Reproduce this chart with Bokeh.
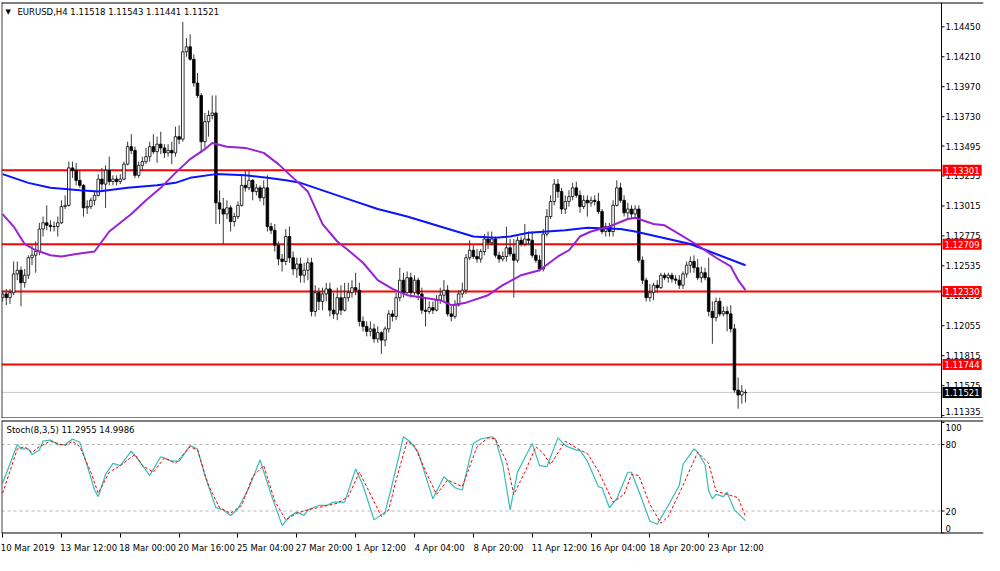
from bokeh.plotting import figure
from bokeh.models import ColumnDataSource, Range1d, FixedTicker, Span, Label
from bokeh.layouts import column
from bokeh.core.properties import value
from bokeh.embed import file_html
from bokeh.resources import INLINE

# ---------------- data ----------------
opens = [
 1.1228,1.1231,1.1228,1.1232,1.1247,1.1250,1.1240,1.1246,1.1260,1.1262,
 1.1265,1.1283,1.1288,1.1286,1.1285,1.1285,1.1288,1.1301,1.1302,1.1332,
 1.1330,1.1322,1.1318,1.1300,1.1301,1.1306,1.1310,1.1323,1.1319,1.1330,
 1.1321,1.1323,1.1321,1.1323,1.1335,1.1349,1.1346,1.1326,1.1334,1.1337,
 1.1341,1.1349,1.1345,1.1351,1.1348,1.1344,1.1346,1.1344,1.1357,1.1355,
 1.1425,1.1429,1.1419,1.1400,1.1390,1.1353,1.1369,1.1374,1.1376,1.1304,
 1.1299,1.1295,1.1300,1.1289,1.1293,1.1302,1.1318,1.1316,1.1322,1.1313,
 1.1316,1.1308,1.1316,1.1285,1.1282,1.1270,1.1259,1.1257,1.1277,1.1260,
 1.1251,1.1255,1.1246,1.1250,1.1256,1.1217,1.1232,1.1225,1.1231,1.1235,
 1.1218,1.1215,1.1228,1.1218,1.1228,1.1232,1.1236,1.1234,1.1209,1.1205,
 1.1201,1.1203,1.1195,1.1200,1.1194,1.1203,1.1215,1.1213,1.1228,1.1242,
 1.1232,1.1244,1.1232,1.1242,1.1231,1.1218,1.1217,1.1220,1.1218,1.1226,
 1.1230,1.1234,1.1215,1.1213,1.1222,1.1231,1.1234,1.1260,1.1266,1.1261,
 1.1259,1.1265,1.1275,1.1272,1.1275,1.1262,1.1259,1.1261,1.1268,1.1263,
 1.1258,1.1274,1.1271,1.1275,1.1274,1.1262,1.1258,1.1251,1.1279,1.1293,
 1.1305,1.1319,1.1313,1.1299,1.1305,1.1309,1.1316,1.1310,1.1301,1.1306,
 1.1304,1.1306,1.1305,1.1297,1.1281,1.1285,1.1281,1.1302,1.1316,1.1306,
 1.1296,1.1299,1.1295,1.1299,1.1258,1.1242,1.1228,1.1232,1.1238,1.1236,
 1.1246,1.1244,1.1246,1.1243,1.1242,1.1238,1.1247,1.1254,1.1257,1.1252,
 1.1244,1.1248,1.1244,1.1217,1.1212,1.1225,1.1215,1.1217,1.1215,1.1203,
 1.1154,1.1150,1.11518]
highs = [
 1.1234,1.1235,1.1235,1.1257,1.1257,1.1253,1.1251,1.1262,1.1271,1.1273,
 1.1288,1.1293,1.1302,1.1290,1.1289,1.1293,1.1306,1.1310,1.1337,1.1337,
 1.1336,1.1330,1.1319,1.1306,1.1308,1.1314,1.1327,1.1332,1.1334,1.1341,
 1.1326,1.1326,1.1327,1.1337,1.1353,1.1359,1.1349,1.1337,1.1341,1.1348,
 1.1353,1.1359,1.1357,1.1361,1.1351,1.1351,1.1353,1.1365,1.1366,1.1449,
 1.1436,1.1439,1.1423,1.1408,1.1392,1.1376,1.1378,1.1390,1.1390,1.1314,
 1.1308,1.1306,1.1302,1.1296,1.1305,1.1326,1.1330,1.1330,1.1323,1.1319,
 1.1318,1.1322,1.1326,1.1288,1.1287,1.1273,1.1263,1.1283,1.1285,1.1265,
 1.1260,1.1260,1.1256,1.1260,1.1260,1.1238,1.1236,1.1236,1.1240,1.1240,
 1.1232,1.1236,1.1238,1.1240,1.1240,1.1242,1.1248,1.1240,1.1213,1.1209,
 1.1209,1.1207,1.1205,1.1201,1.1205,1.1218,1.1218,1.1232,1.1252,1.1248,
 1.1249,1.1248,1.1246,1.1244,1.1236,1.1228,1.1225,1.1225,1.1230,1.1236,
 1.1242,1.1238,1.1221,1.1226,1.1234,1.1240,1.1263,1.1274,1.1270,1.1267,
 1.1267,1.1279,1.1281,1.1281,1.1277,1.1265,1.1265,1.1285,1.1275,1.1275,
 1.1277,1.1277,1.1287,1.1281,1.1281,1.1267,1.1262,1.1283,1.1299,1.1310,
 1.1323,1.1323,1.1316,1.1310,1.1314,1.1320,1.1321,1.1314,1.1310,1.1310,
 1.1309,1.1310,1.1312,1.1299,1.1288,1.1288,1.1306,1.1322,1.1320,1.1310,
 1.1304,1.1302,1.1302,1.1302,1.1261,1.1244,1.1239,1.1240,1.1242,1.1248,
 1.1248,1.1248,1.1248,1.1246,1.1246,1.1249,1.1257,1.1261,1.1262,1.1259,
 1.1253,1.1252,1.1260,1.1225,1.1228,1.1228,1.1221,1.1221,1.1222,1.1207,
 1.1164,1.1158,1.11543]
lows = [
 1.1225,1.1222,1.1223,1.1230,1.1242,1.1221,1.1236,1.1243,1.1254,1.1248,
 1.1262,1.1277,1.1282,1.1281,1.1281,1.1277,1.1287,1.1299,1.1301,1.1324,
 1.1318,1.1316,1.1293,1.1295,1.1299,1.1302,1.1309,1.1314,1.1300,1.1318,
 1.1318,1.1318,1.1319,1.1322,1.1334,1.1343,1.1324,1.1324,1.1330,1.1335,
 1.1337,1.1343,1.1336,1.1343,1.1340,1.1341,1.1335,1.1341,1.1351,1.1353,
 1.1421,1.1418,1.1397,1.1388,1.1344,1.1348,1.1357,1.1371,1.1287,1.1287,
 1.1271,1.1291,1.1281,1.1285,1.1291,1.1301,1.1313,1.1314,1.1306,1.1310,
 1.1305,1.1302,1.1281,1.1279,1.1265,1.1254,1.1249,1.1254,1.1256,1.1246,
 1.1244,1.1240,1.1240,1.1242,1.1213,1.1213,1.1218,1.1218,1.1225,1.1213,
 1.1211,1.1210,1.1214,1.1217,1.1225,1.1228,1.1230,1.1205,1.1201,1.1197,
 1.1197,1.1192,1.1192,1.1183,1.1189,1.1200,1.1209,1.1210,1.1225,1.1228,
 1.1231,1.1228,1.1230,1.1226,1.1215,1.1205,1.1215,1.1215,1.1217,1.1223,
 1.1225,1.1213,1.1209,1.1211,1.1221,1.1228,1.1231,1.1258,1.1259,1.1256,
 1.1256,1.1262,1.1267,1.1270,1.1260,1.1256,1.1257,1.1257,1.1261,1.1228,
 1.1256,1.1269,1.1269,1.1270,1.1260,1.1256,1.1249,1.1249,1.1277,1.1291,
 1.1302,1.1308,1.1295,1.1295,1.1301,1.1306,1.1308,1.1296,1.1299,1.1293,
 1.1301,1.1302,1.1295,1.1279,1.1277,1.1277,1.1277,1.1301,1.1304,1.1293,
 1.1291,1.1292,1.1291,1.1256,1.1239,1.1225,1.1225,1.1226,1.1232,1.1235,
 1.1242,1.1240,1.1240,1.1239,1.1235,1.1235,1.1244,1.1248,1.1248,1.1242,
 1.1240,1.1242,1.1213,1.1191,1.1209,1.1213,1.1213,1.1201,1.1200,1.1152,
 1.1139,1.1143,1.11441]
closes = [
 1.1231,1.1228,1.1232,1.1247,1.1250,1.1240,1.1246,1.1260,1.1262,1.1265,
 1.1283,1.1288,1.1286,1.1285,1.1285,1.1288,1.1301,1.1302,1.1332,1.1330,
 1.1322,1.1318,1.1300,1.1301,1.1306,1.1310,1.1323,1.1319,1.1330,1.1321,
 1.1323,1.1321,1.1323,1.1335,1.1349,1.1346,1.1326,1.1334,1.1337,1.1341,
 1.1349,1.1345,1.1351,1.1348,1.1344,1.1346,1.1344,1.1357,1.1355,1.1425,
 1.1429,1.1419,1.1400,1.1390,1.1353,1.1369,1.1374,1.1376,1.1304,1.1299,
 1.1295,1.1300,1.1289,1.1293,1.1302,1.1318,1.1316,1.1322,1.1313,1.1316,
 1.1308,1.1316,1.1285,1.1282,1.1270,1.1259,1.1257,1.1277,1.1260,1.1251,
 1.1255,1.1246,1.1250,1.1256,1.1217,1.1232,1.1225,1.1231,1.1235,1.1218,
 1.1215,1.1228,1.1218,1.1228,1.1232,1.1236,1.1234,1.1209,1.1205,1.1201,
 1.1203,1.1195,1.1200,1.1194,1.1203,1.1215,1.1213,1.1228,1.1242,1.1232,
 1.1244,1.1232,1.1242,1.1231,1.1218,1.1217,1.1220,1.1218,1.1226,1.1230,
 1.1234,1.1215,1.1213,1.1222,1.1231,1.1234,1.1260,1.1266,1.1261,1.1259,
 1.1265,1.1275,1.1272,1.1275,1.1262,1.1259,1.1261,1.1268,1.1263,1.1258,
 1.1274,1.1271,1.1275,1.1274,1.1262,1.1258,1.1251,1.1279,1.1293,1.1305,
 1.1319,1.1313,1.1299,1.1305,1.1309,1.1316,1.1310,1.1301,1.1306,1.1304,
 1.1306,1.1305,1.1297,1.1281,1.1285,1.1281,1.1302,1.1316,1.1306,1.1296,
 1.1299,1.1295,1.1299,1.1258,1.1242,1.1228,1.1232,1.1238,1.1236,1.1246,
 1.1244,1.1246,1.1243,1.1242,1.1238,1.1247,1.1254,1.1257,1.1252,1.1244,
 1.1248,1.1244,1.1217,1.1212,1.1225,1.1215,1.1217,1.1215,1.1203,1.1154,
 1.1150,1.1153,1.11521]

# moving averages (bar index, value)
ma_fast_bar = [0,3,6,9,13,16,20,25,26,29,35,39,43,47,51,55,57,61,66,71,75,79,83,87,91,94,98,102,106,110,
               119,122,126,132,136,141,146,151,154,157,160,165,170,172,177,180,184,189,194,198,200,202]
ma_fast_val = [1.1295,1.1285,1.1271,1.1266,1.1262,1.1261,1.1263,1.1265,1.1269,1.1281,
               1.1295,1.1306,1.1316,1.1328,1.1339,1.1347,1.1352,1.1349,1.1348,1.1344,
               1.1335,1.1324,1.1313,1.1287,1.1273,1.1266,1.1256,1.1242,1.1235,1.1230,
               1.1226,1.1222,1.1224,1.1230,1.1238,1.1246,1.1250,1.1261,1.1266,1.1277,
               1.1281,1.1285,1.1291,1.1292,1.1287,1.1286,1.1279,1.1270,1.1260,1.1253,
               1.1242,1.1234]
ma_slow_bar = [0,7,13,21,26,34,42,47,51,58,66,72,77,81,87,95,102,110,119,128,
               134,138,143,148,153,159,168,172,178,187,194,202]
ma_slow_val = [1.1327,1.1320,1.1316,1.1314,1.1313,1.1316,1.1318,1.1320,1.1324,1.1327,
               1.1326,1.1324,1.1322,1.1320,1.1314,1.1306,1.1299,1.1293,1.1285,1.1277,
               1.1276,1.1277,1.1280,1.1281,1.1282,1.1284,1.1283,1.1281,1.1277,1.1271,
               1.1263,1.1254]

# stochastic (bar index, value)
stoch_main_bar = [0,4,5,7,8,10,11,13,15,17,19,21,23,25,26,28,30,32,35,37,40,43,46,48,51,53,55,58,60,62,
                  64,67,70,73,76,78,80,82,83,86,88,90,93,96,98,101,104,106,109,111,113,117,120,123,125,
                  128,130,133,134,136,138,140,142,144,146,148,151,153,156,157,159,162,163,165,167,170,
                  171,173,176,178,181,184,185,188,189,191,192,193,194,196,197,199,202]
stoch_main_val = [45,80,76,76,71,75,83,84,80,80,85,82,61,39,33,53,63,61,74,66,52,69,65,65,79,76,52,23,21,16,
                  22,41,66,35,7,15,19,16,21,25,25,28,28,58,43,12,19,45,87,82,73,31,51,41,39,
                  81,85,87,85,62,21,55,68,81,61,60,86,79,75,75,65,42,41,23,31,55,
                  55,38,11,8,25,43,62,76,73,62,38,31,35,33,37,21,11.2955]
stoch_sig_bar = [0,4,6,8,10,13,17,19,21,24,26,29,32,36,38,41,44,47,51,53,56,59,62,65,68,71,74,77,80,83,
                 87,91,94,97,99,103,105,107,110,112,115,118,121,125,129,132,134,137,139,142,145,147,149,
                 153,157,159,162,166,169,171,173,176,179,181,185,189,192,194,197,200,202]
stoch_sig_val = [36,76,78,73,78,83,79,83,78,55,36,55,61,71,61,55,68,63,78,75,43,23,18,25,51,61,29,12,18,21,
                 24,27,33,55,42,15,21,48,83,79,56,35,48,42,78,86,85,65,35,55,78,72,62,
                 83,75,72,56,28,35,53,52,26,9,15,43,73,63,38,35,32,14.9986]

level_lines = [1.13301, 1.12709, 1.12330, 1.11744]
last_price = 1.11521
price_ticks = [1.14450, 1.14210, 1.13970, 1.13730, 1.13495, 1.13255, 1.13015,
               1.12775, 1.12535, 1.12295, 1.12055, 1.11815, 1.11575, 1.11335]
stoch_ticks = [0, 20, 80, 100]
stoch_levels = [20, 80]
date_bars = [0, 16, 32, 48, 64, 80, 96, 112, 128, 144, 160, 176, 192]
date_labels = ["10 Mar 2019", "13 Mar 12:00", "18 Mar 00:00", "20 Mar 16:00", "25 Mar 04:00",
               "27 Mar 20:00", "1 Apr 12:00", "4 Apr 04:00", "8 Apr 20:00", "11 Apr 12:00",
               "16 Apr 04:00", "18 Apr 20:00", "23 Apr 12:00"]
title_text = "EURUSD,H4 1.11518 1.11543 1.11441 1.11521"
stoch_text = "Stoch(8,3,5) 11.2955 14.9986"

# ---------------- layout ----------------
FONT = "DejaVu Sans"
FS = "8.5px"
W = 984
FRAME_W = W - 2            # whole frame (chart + price scale)
CHART_W = 940              # chart part of the frame, in px
X0 = -0.3
BORDER = 255.3             # bar position of the chart/price-scale border
PX_PER_BAR = CHART_W / (BORDER - X0)
X1 = X0 + FRAME_W / PX_PER_BAR
x_range = Range1d(X0, X1)
y_range = Range1d(1.11312, 1.14645)
s_range = Range1d(-0.3, 101.7)


def style(fig):
    fig.grid.visible = False
    fig.outline_line_color = None
    fig.background_fill_color = "white"
    fig.add_layout(Span(location=BORDER, dimension="height", line_color="black", line_width=1))
    fig.add_layout(Span(location=X0, dimension="height", line_color="#404040", line_width=2))
    fig.add_layout(Span(location=fig.y_range.start, dimension="width", line_color="black", line_width=2))
    fig.add_layout(Span(location=fig.y_range.end, dimension="width", line_color="black", line_width=2))


def price_scale(fig, ticks, texts, offsets):
    tick_len = 3 / PX_PER_BAR
    fig.segment(x0=[BORDER] * len(ticks), y0=ticks, x1=[BORDER + tick_len] * len(ticks), y1=ticks,
                line_color="black", line_width=1)
    fig.text(x=[BORDER + 4 / PX_PER_BAR] * len(ticks), y=ticks, text=texts, y_offset=offsets,
             text_font=value(FONT), text_font_size=value(FS), text_color="black",
             text_align="left", text_baseline="middle")


p = figure(width=W, height=418, x_range=x_range, y_range=y_range,
           output_backend="svg", toolbar_location=None,
           x_axis_location=None, y_axis_location=None,
           min_border_left=1, min_border_right=1, min_border_top=2, min_border_bottom=0)
style(p)

idx = list(range(len(closes)))
src = ColumnDataSource(dict(
    x=idx, o=opens, h=highs, l=lows, c=closes,
    top=[max(a, b) for a, b in zip(opens, closes)],
    bottom=[min(a, b) for a, b in zip(opens, closes)],
    fill=["white" if c >= o else "black" for o, c in zip(opens, closes)],
))

p.segment(x0=[X0] * len(level_lines), y0=level_lines, x1=[BORDER] * len(level_lines), y1=level_lines,
          line_color="#ff0000", line_width=2)
p.segment(x0=[X0], y0=[last_price], x1=[BORDER], y1=[last_price], line_color="#c8c8c8", line_width=1)

p.segment(x0="x", y0="l", x1="x", y1="h", line_color="#3a3a3a", line_width=1, source=src)
p.vbar(x="x", width=0.7, top="top", bottom="bottom", fill_color="fill",
       line_color="black", line_width=0.8, source=src)

p.line(ma_slow_bar, ma_slow_val, line_color="#0a14ff", line_width=2)
p.line(ma_fast_bar, ma_fast_val, line_color="#9a22d4", line_width=2)

price_offsets = [0] * (len(price_ticks) - 1) + [-4]
price_scale(p, price_ticks, [f"{t:.5f}" for t in price_ticks], price_offsets)

for lvl in level_lines:
    p.add_layout(Label(x=BORDER, y=lvl, x_offset=1, text=f"{lvl:.5f}",
                       text_color="white", text_font=FONT, text_font_size=FS,
                       text_baseline="middle", background_fill_color="#ff0000", padding=2))
p.add_layout(Label(x=BORDER, y=last_price, x_offset=1, text=f"{last_price:.5f}",
                   text_color="white", text_font=FONT, text_font_size=FS,
                   text_baseline="middle", background_fill_color="black", padding=2))

p.add_layout(Label(x=X0, y=y_range.end, x_offset=4, y_offset=-9, text="\u25BC",
                   text_color="black", text_font=FONT, text_font_size="7px", text_baseline="middle"))
p.add_layout(Label(x=X0, y=y_range.end, x_offset=16, y_offset=-9, text=title_text,
                   text_color="black", text_font=FONT, text_font_size=FS, text_baseline="middle"))

# stochastic panel
p2 = figure(width=W, height=137, x_range=x_range, y_range=s_range,
            output_backend="svg", toolbar_location=None, y_axis_location=None,
            min_border_left=1, min_border_right=1, min_border_top=2, min_border_bottom=19)
style(p2)
p2.segment(x0=[X0] * 2, y0=stoch_levels, x1=[BORDER] * 2, y1=stoch_levels,
           line_color="#b4b4b4", line_width=1, line_dash="3 3")
p2.line(stoch_main_bar, stoch_main_val, line_color="#33bdb5", line_width=1.2)
p2.line(stoch_sig_bar, stoch_sig_val, line_color="#ff0000", line_width=1, line_dash="3 2")
price_scale(p2, stoch_ticks, [str(t) for t in stoch_ticks], [-5, 0, 0, 5])

centers = [b + (len(t) * 4.3 / 2 + 1.5) / PX_PER_BAR for b, t in zip(date_bars, date_labels)]
xa = p2.xaxis[0]
xa.ticker = FixedTicker(ticks=centers, minor_ticks=date_bars)
xa.major_label_overrides = {c: t for c, t in zip(centers, date_labels)}
xa.major_tick_line_color = None
xa.minor_tick_line_color = "black"
xa.minor_tick_in = 0
xa.minor_tick_out = 4
xa.axis_line_color = None
xa.major_label_text_font = FONT
xa.major_label_text_font_size = FS
xa.major_label_text_color = "black"
xa.major_label_standoff = 3

p2.add_layout(Label(x=X0, y=s_range.end, x_offset=5, y_offset=-9, text=stoch_text,
                    text_color="black", text_font=FONT, text_font_size=FS, text_baseline="middle"))

layout = column(p, p2, spacing=0)
open("out.html", "w").write(file_html(layout, INLINE))
